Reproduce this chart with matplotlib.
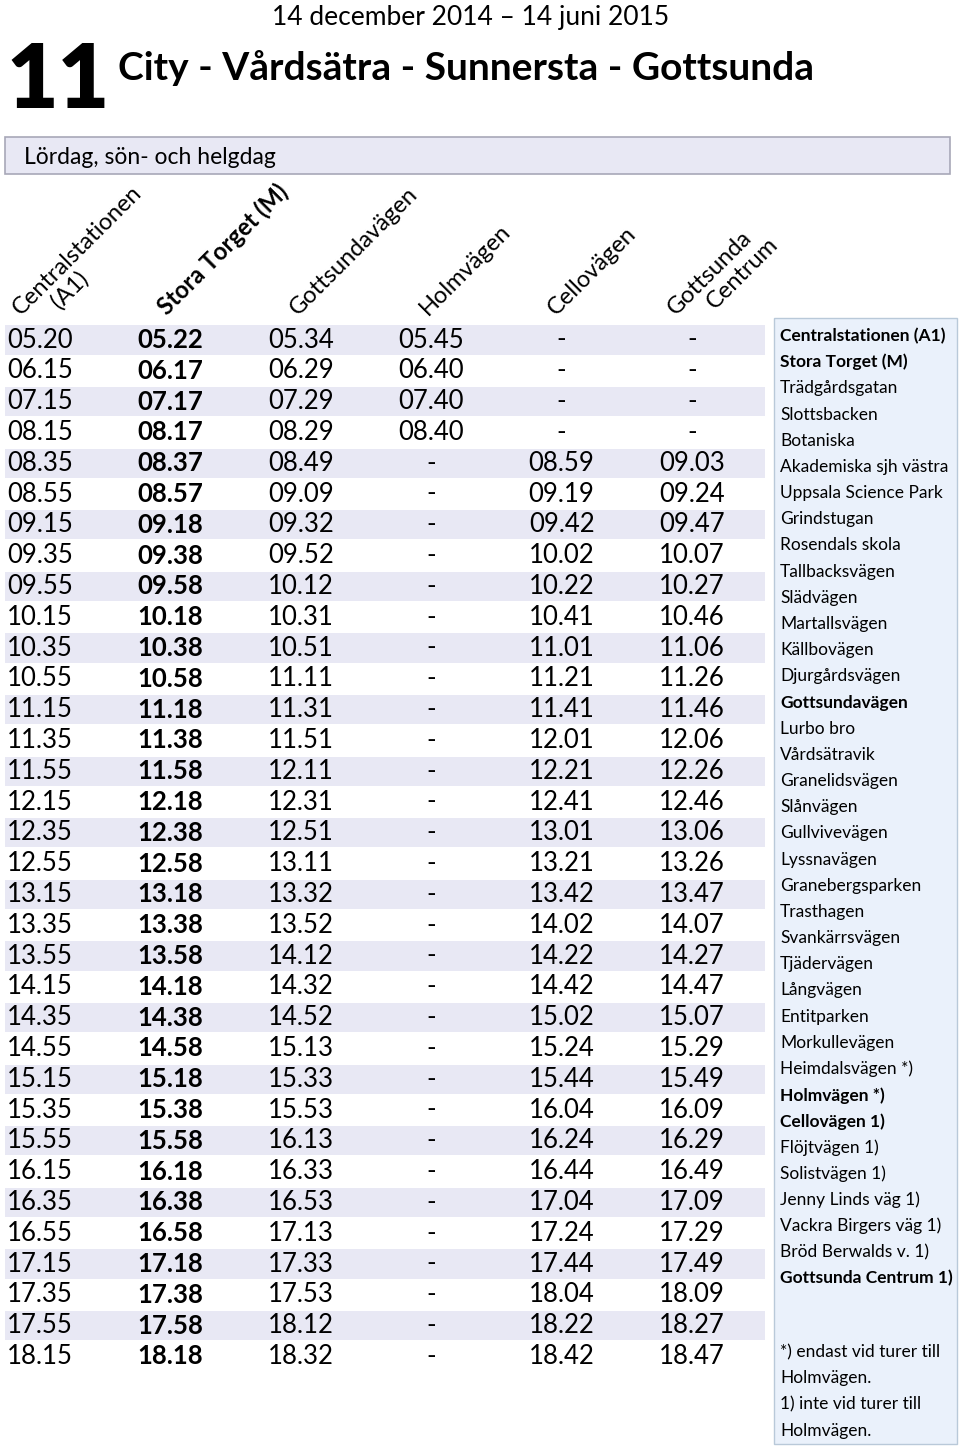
# timetable for line 11, weekends
import numpy as np
import matplotlib
matplotlib.use("Agg")
import matplotlib.pyplot as plt

plt.rcParams['font.family'] = ['Lato', 'DejaVu Sans']

# header texts
line_no = "11"
route = "City - Vårdsätra - Sunnersta - Gottsunda"
period = "14 december 2014 \u2013 14 juni 2015"
day_type = "Lördag, sön- och helgdag"

# column headers (lines of each label) and which are bold
col_labels = [["Centralstationen", "(A1)"], ["Stora Torget (M)"], ["Gottsundavägen"],
              ["Holmvägen"], ["Cellovägen"], ["Gottsunda", "Centrum"]]
col_bold = [False, True, False, False, False, False]

# departure times per stop
centralstationen = ["05.20", "06.15", "07.15", "08.15", "08.35", "08.55", "09.15", "09.35", "09.55",
                    "10.15", "10.35", "10.55", "11.15", "11.35", "11.55", "12.15", "12.35", "12.55",
                    "13.15", "13.35", "13.55", "14.15", "14.35", "14.55", "15.15", "15.35", "15.55",
                    "16.15", "16.35", "16.55", "17.15", "17.35", "17.55", "18.15"]
stora_torget = ["05.22", "06.17", "07.17", "08.17", "08.37", "08.57", "09.18", "09.38", "09.58",
                "10.18", "10.38", "10.58", "11.18", "11.38", "11.58", "12.18", "12.38", "12.58",
                "13.18", "13.38", "13.58", "14.18", "14.38", "14.58", "15.18", "15.38", "15.58",
                "16.18", "16.38", "16.58", "17.18", "17.38", "17.58", "18.18"]
gottsundavagen = ["05.34", "06.29", "07.29", "08.29", "08.49", "09.09", "09.32", "09.52", "10.12",
                  "10.31", "10.51", "11.11", "11.31", "11.51", "12.11", "12.31", "12.51", "13.11",
                  "13.32", "13.52", "14.12", "14.32", "14.52", "15.13", "15.33", "15.53", "16.13",
                  "16.33", "16.53", "17.13", "17.33", "17.53", "18.12", "18.32"]
holmvagen = ["05.45", "06.40", "07.40", "08.40"] + ["-"] * 30
cellovagen = ["-"] * 4 + ["08.59", "09.19", "09.42", "10.02", "10.22", "10.41", "11.01", "11.21",
                          "11.41", "12.01", "12.21", "12.41", "13.01", "13.21", "13.42", "14.02",
                          "14.22", "14.42", "15.02", "15.24", "15.44", "16.04", "16.24", "16.44",
                          "17.04", "17.24", "17.44", "18.04", "18.22", "18.42"]
gottsunda_centrum = ["-"] * 4 + ["09.03", "09.24", "09.47", "10.07", "10.27", "10.46", "11.06",
                                 "11.26", "11.46", "12.06", "12.26", "12.46", "13.06", "13.26",
                                 "13.47", "14.07", "14.27", "14.47", "15.07", "15.29", "15.49",
                                 "16.09", "16.29", "16.49", "17.09", "17.29", "17.49", "18.09",
                                 "18.27", "18.47"]
columns = [centralstationen, stora_torget, gottsundavagen, holmvagen, cellovagen, gottsunda_centrum]

# full stop list on the right
stops = ["Centralstationen (A1)", "Stora Torget (M)", "Trädgårdsgatan", "Slottsbacken", "Botaniska",
         "Akademiska sjh västra", "Uppsala Science Park", "Grindstugan", "Rosendals skola",
         "Tallbacksvägen", "Slädvägen", "Martallsvägen", "Källbovägen", "Djurgårdsvägen",
         "Gottsundavägen", "Lurbo bro", "Vårdsätravik", "Granelidsvägen", "Slånvägen",
         "Gullvivevägen", "Lyssnavägen", "Granebergsparken", "Trasthagen", "Svankärrsvägen",
         "Tjädervägen", "Långvägen", "Entitparken", "Morkullevägen", "Heimdalsvägen *)",
         "Holmvägen *)", "Cellovägen 1)", "Flöjtvägen 1)", "Solistvägen 1)", "Jenny Linds väg 1)",
         "Vackra Birgers väg 1)", "Bröd Berwalds v. 1)", "Gottsunda Centrum 1)"]
bold_stops = ["Centralstationen (A1)", "Stora Torget (M)", "Gottsundavägen", "Holmvägen *)",
              "Cellovägen 1)", "Gottsunda Centrum 1)"]
notes = ["*) endast vid turer till", "Holmvägen.", "1) inte vid turer till", "Holmvägen."]

# layout in pixels
row0, row_h = 340, 30.8
col_x0, col_w = 40, 130.4
head_x = [21, 167, 298, 428, 556, 676]
stop_y0, stop_h = 336, 26.18
row_fill = "#e8e8f4"

fig = plt.figure(figsize=(9.6, 14.56), dpi=100)
ax = fig.add_axes([0, 0, 1, 1])
ax.set_xlim(0, 960)
ax.set_ylim(1456, 0)
ax.axis('off')

# header
ax.text(471, 18, period, ha='center', va='center', fontsize=19)
ax.text(6, 82, line_no, ha='left', va='center', fontsize=64, fontweight='heavy')
ax.text(118, 68, route, ha='left', va='center', fontsize=28, fontweight='bold')

ax.barh(155, 945, left=5, height=37, color=row_fill, edgecolor="#a8a8b8", linewidth=1.2)
ax.text(24, 157, day_type, ha='left', va='center', fontsize=16.5)

# rotated column headers
ang = np.radians(45)
along = np.array([np.cos(ang), -np.sin(ang)])
perp = np.array([np.sin(ang), np.cos(ang)])
for j, lines in enumerate(col_labels):
    base = np.array([head_x[j], 316])
    for k, txt in enumerate(lines):
        pos = base + k * (32 * along + 23 * perp)
        ax.text(pos[0], pos[1], txt, rotation=45, rotation_mode='anchor', ha='left',
                va='baseline', fontsize=17, fontweight='bold' if col_bold[j] else 'normal')

# row shading
n_rows = len(centralstationen)
rows = np.arange(n_rows)
shaded = rows[rows % 2 == 0]
ax.barh(row0 + shaded * row_h, 760, left=5, height=row_h - 1.5, color=row_fill, linewidth=0)

# times
for j, col in enumerate(columns):
    for i, val in enumerate(col):
        ax.text(col_x0 + j * col_w, row0 + i * row_h, val, ha='center', va='center',
                fontsize=18.5, fontweight='bold' if col_bold[j] else 'normal')

# stop list box
ax.barh(881, 183, left=774, height=1126, color="#eaf1fb", edgecolor="#b9c9d9", linewidth=1)
for i, s in enumerate(stops):
    ax.text(780, stop_y0 + i * stop_h, s, ha='left', va='center', fontsize=12.5,
            fontweight='bold' if s in bold_stops else 'normal')
for i, s in enumerate(notes):
    ax.text(780, 1352 + i * stop_h, s, ha='left', va='center', fontsize=12.5)

fig.savefig("out.png", dpi=100)
